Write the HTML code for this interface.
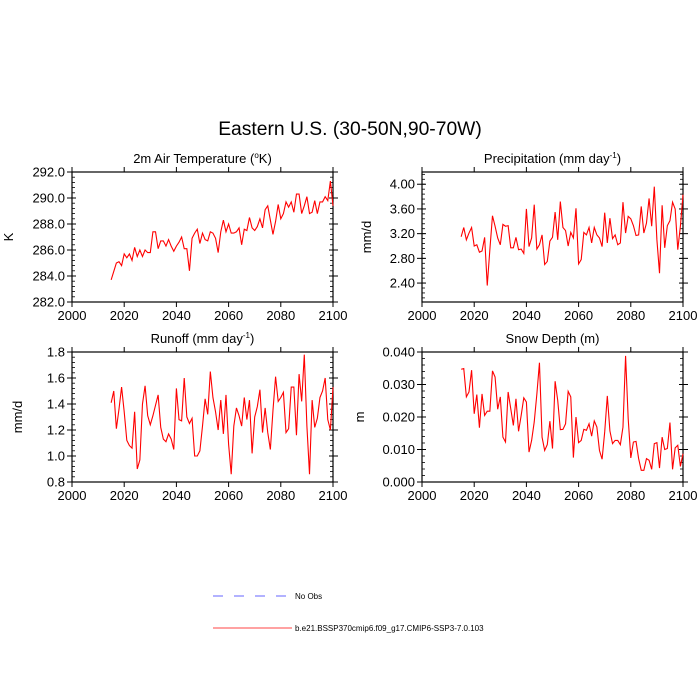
<!DOCTYPE html>
<html><head><meta charset="utf-8"><style>
body{margin:0;background:#fff}
svg{display:block;font-family:"Liberation Sans",Arial,sans-serif}
</style></head><body>
<svg id="c" width="700" height="700" viewBox="0 0 700 700">
<text x="350" y="135" text-anchor="middle" font-size="19.3">Eastern U.S. (30-50N,90-70W)</text>
<g>
<line x1="213" y1="596" x2="290" y2="596" stroke="#6666ff" stroke-width="1" stroke-dasharray="10,11"/>
<text x="295" y="599" font-size="8">No Obs</text>
<line x1="213" y1="628" x2="292" y2="628" stroke="#ff4444" stroke-width="1"/>
<text x="295" y="631" font-size="8">b.e21.BSSP370cmip6.f09_g17.CMIP6-SSP3-7.0.103</text>
</g>
</svg>
<script>
const years=[];for(let y=2015;y<=2100;y++)years.push(y);
const xTicks=[2000,2020,2040,2060,2080,2100];
const tasValues=[283.7,284.35,285.0,285.1,284.8,285.7,285.4,285.7,285.2,286.2,285.5,286.0,285.5,286.0,285.8,285.8,287.4,287.4,286.1,286.7,286.7,286.3,286.8,286.3,285.9,286.3,286.6,287.0,286.1,286.1,284.4,286.9,287.3,287.6,286.5,287.3,286.8,286.7,287.4,287.3,286.9,285.8,287.4,288.3,287.4,288.0,287.3,287.3,287.4,287.7,286.4,287.6,287.5,288.5,287.7,287.5,287.8,288.4,287.7,289.1,289.4,288.3,287.2,288.2,289.5,288.4,288.8,289.7,289.3,289.7,288.9,290.3,290.3,288.8,289.4,290.1,288.8,288.9,289.8,288.8,289.7,289.7,290.1,289.8,291.3,289.4];
const prectValues=[3.15,3.30,3.10,3.21,3.30,3.00,3.02,2.90,2.92,3.14,2.36,2.94,3.49,3.32,3.13,3.02,3.35,3.32,3.33,2.97,2.97,3.14,2.94,2.95,2.88,3.60,2.99,3.13,3.67,2.95,3.02,3.18,2.70,2.75,3.08,3.14,3.55,3.10,3.72,3.30,3.25,3.00,3.22,3.13,3.61,2.71,2.78,3.22,3.18,3.30,3.05,3.30,3.18,3.13,2.99,3.54,3.05,3.45,3.12,3.18,3.02,3.05,3.71,3.21,3.48,3.44,3.33,3.17,3.18,3.64,3.21,3.37,3.77,3.32,3.96,3.10,2.56,3.66,2.97,3.33,3.41,3.71,3.60,2.94,3.32,3.83];
const runoffValues=[1.41,1.50,1.21,1.36,1.53,1.34,1.12,1.08,1.06,1.34,0.90,0.97,1.40,1.54,1.31,1.24,1.31,1.39,1.47,1.22,1.13,1.11,1.17,1.13,1.05,1.52,1.28,1.27,1.60,1.30,1.25,1.29,1.00,1.00,1.04,1.23,1.44,1.32,1.65,1.45,1.34,1.20,1.43,1.17,1.47,1.09,0.86,1.23,1.37,1.31,1.23,1.45,1.28,1.43,1.02,1.30,1.38,1.51,1.18,1.37,1.18,1.05,1.35,1.61,1.42,1.45,1.49,1.18,1.21,1.53,1.53,1.16,1.63,1.42,1.78,1.23,0.86,1.43,1.22,1.29,1.45,1.50,1.60,1.28,1.20,1.53];
const snowValues=[0.0347,0.0349,0.0262,0.0277,0.0344,0.0210,0.0269,0.0167,0.0271,0.0205,0.0218,0.0218,0.0342,0.0323,0.0224,0.0262,0.0138,0.0123,0.0277,0.0226,0.0174,0.0256,0.0156,0.0205,0.0259,0.0246,0.0092,0.0128,0.0185,0.0270,0.0367,0.0138,0.0097,0.0115,0.0187,0.0103,0.0310,0.0251,0.0161,0.0162,0.0179,0.0279,0.0262,0.0075,0.0200,0.0121,0.0128,0.0162,0.0159,0.0179,0.0141,0.0188,0.0169,0.0097,0.0070,0.0154,0.0265,0.0157,0.0118,0.0128,0.0128,0.0115,0.0169,0.0388,0.0195,0.0074,0.0123,0.0125,0.0072,0.0036,0.0036,0.0072,0.0067,0.0039,0.0118,0.0121,0.0043,0.0138,0.0100,0.0103,0.0183,0.0039,0.0105,0.0113,0.0048,0.0087];
const tasTicks=[282.0,284.0,286.0,288.0,290.0,292.0];
const prectTicks=[2.40,2.80,3.20,3.60,4.00];
const runoffTicks=[0.8,1.0,1.2,1.4,1.6,1.8];
const snowTicks=[0.000,0.010,0.020,0.030,0.040];

const svg=document.getElementById('c');
const NS='http://www.w3.org/2000/svg';
function mk(tag,attrs,parent){const e=document.createElementNS(NS,tag);for(const k in attrs)e.setAttribute(k,attrs[k]);(parent||svg).appendChild(e);return e;}

function panel(o){
  const g=mk('g',{});
  
  
  const L=o.x0,R=o.x1,T=o.y0,B=o.y1;
  const xs=v=>L+(v-2000)/100*(R-L);
  const ys=v=>B-(v-o.ymin)/(o.ymax-o.ymin)*(B-T);
  const frame=mk('rect',{x:L,y:T,width:R-L,height:B-T,fill:'none',stroke:'#000','stroke-width':1.2},g);
  
  
  xTicks.forEach(t=>{
    const x=xs(t);
    mk('line',{x1:x,y1:B,x2:x,y2:B+5,stroke:'#000'},g);
    mk('line',{x1:x,y1:T,x2:x,y2:T-5,stroke:'#000'},g);
    const lb=mk('text',{x:x,y:B+18,'text-anchor':'middle','font-size':13},g);
    lb.textContent=t;
    
    
  });
  const tk=o.ticks;const step=tk[1]-tk[0];
  tk.forEach((t,i)=>{
    const y=ys(t);
    mk('line',{x1:L-5,y1:y,x2:L+4,y2:y,stroke:'#000'},g);
    mk('line',{x1:R-4,y1:y,x2:R+5,y2:y,stroke:'#000'},g);
    const lb=mk('text',{x:L-7,y:y+4.5,'text-anchor':'end','font-size':13},g);
    lb.textContent=t.toFixed(o.dec);
    
    
  });
  for(let v=tk[0]-step;v<=o.ymax+1e-9;v+=step/5){
    if(v<o.ymin-1e-9)continue;
    const y=ys(v);
    mk('line',{x1:L,y1:y,x2:L+3,y2:y,stroke:'#000','stroke-width':0.8},g);
    mk('line',{x1:R-3,y1:y,x2:R,y2:y,stroke:'#000','stroke-width':0.8},g);
  }
  const st=mk('text',{x:(L+R)/2,y:T-9,'text-anchor':'middle','font-size':13},g);
  st.innerHTML=o.title;
  
  
  const yt=mk('text',{x:0,y:0,'text-anchor':'middle','font-size':13,transform:'translate('+o.ytx+','+((T+B)/2)+') rotate(-90)'},g);
  yt.textContent=o.ylabel;
  
  
  const d=years.map((yr,i)=>(i?'L':'M')+xs(yr).toFixed(2)+','+ys(o.values[i]).toFixed(2)).join('');
  const p=mk('path',{d:d,fill:'none',stroke:'#ff0000','stroke-width':1.1},g);
  
  
}
panel({name:'air-temperature',x0:72,x1:333,y0:172,y1:302,ymin:282,ymax:292,ticks:tasTicks,dec:1,values:tasValues,title:'2m Air Temperature (<tspan font-size="8" dy="-5">o</tspan><tspan dy="5">K)</tspan>',ylabel:'K',ytx:13});
panel({name:'precipitation',x0:422,x1:683,y0:172,y1:302,ymin:2.0934,ymax:4.198,ticks:prectTicks,dec:2,values:prectValues,title:'Precipitation (mm day<tspan font-size="8" dy="-5">-1</tspan><tspan dy="5">)</tspan>',ylabel:'mm/d',ytx:371});
panel({name:'runoff',x0:72,x1:333,y0:352,y1:482,ymin:0.8,ymax:1.8,ticks:runoffTicks,dec:1,values:runoffValues,title:'Runoff (mm day<tspan font-size="8" dy="-5">-1</tspan><tspan dy="5">)</tspan>',ylabel:'mm/d',ytx:22});
panel({name:'snow-depth',x0:422,x1:683,y0:352,y1:482,ymin:0,ymax:0.04,ticks:snowTicks,dec:3,values:snowValues,title:'Snow Depth (m)',ylabel:'m',ytx:364});
</script>
</body></html>
